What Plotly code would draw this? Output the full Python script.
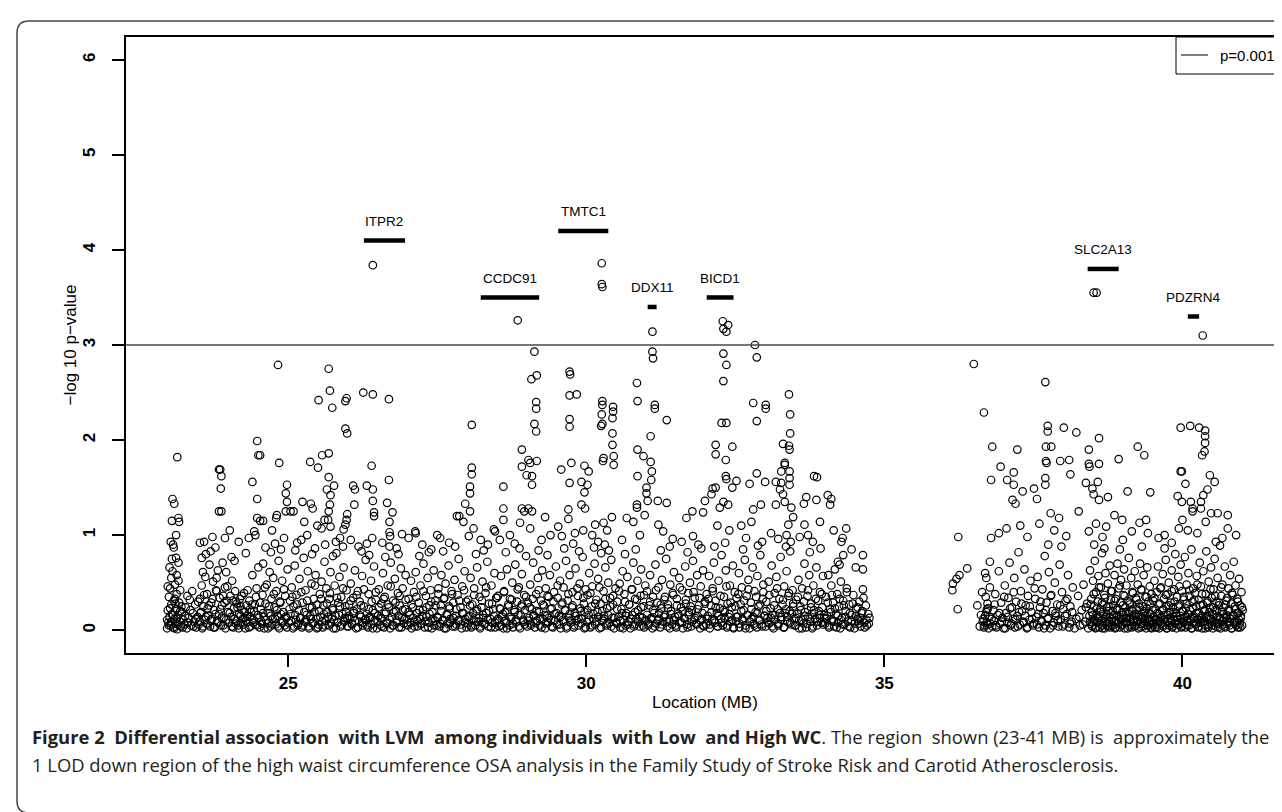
import plotly.graph_objects as go

# ---------------- data (x = Location (MB), y = -log10 p) ----------------
seg_a = [(23.14,1.82),(23.06,1.38),(23.09,1.33),(23.05,1.15),(23.16,1.18),(23.17,1.14),(23.12,1.00),(23.07,0.90),(23.08,0.87),(23.05,0.75),(23.12,0.76),(23.16,0.71),(23.04,0.55),(23.13,0.58),(23.16,0.52),(23.39,0.41),
 (22.97,0.02),(22.98,0.21),(22.99,0.08),(23.00,0.35),(23.01,0.14),(23.02,0.44),(23.03,0.05),(23.04,0.27),(23.05,0.17),(23.06,0.62),(23.07,0.03),(23.08,0.31),(23.09,0.12),(23.10,0.48),(23.11,0.07),(23.12,0.22),(23.13,0.38),(23.14,0.01),(23.15,0.16),(23.17,0.29),(23.18,0.09),(23.20,0.04),(23.22,0.19),(23.24,0.11),(23.26,0.06),(23.28,0.24),(23.30,0.02),(23.33,0.13),(23.35,0.32),(23.37,0.05),(23.40,0.18),(23.42,0.09),(23.44,0.27),(23.46,0.03),(23.48,0.14),(22.98,0.46),(23.01,0.66),(23.03,0.93),(23.10,0.33),(23.19,0.42),(23.21,0.25),(23.31,0.36)]
seg_b = [(23.52,0.92),(23.59,0.93),(23.73,0.98),(23.78,0.87),(23.94,0.97),(23.84,1.69),(23.86,1.69),(23.88,1.62),(23.87,1.49),(23.84,1.25),(23.88,1.25),(23.55,0.76),(23.62,0.80),(23.57,0.61),
 (23.50,0.06),(23.52,0.33),(23.53,0.18),(23.55,0.47),(23.56,0.02),(23.58,0.25),(23.60,0.11),(23.61,0.56),(23.63,0.07),(23.64,0.38),(23.66,0.15),(23.68,0.69),(23.69,0.04),(23.71,0.29),(23.72,0.12),(23.74,0.51),(23.76,0.21),(23.77,0.03),(23.79,0.42),(23.81,0.09),(23.82,0.63),(23.84,0.17),(23.85,0.34),(23.87,0.05),(23.89,0.26),(23.90,0.71),(23.92,0.13),(23.94,0.45),(23.95,0.02),(23.97,0.31),(23.99,0.19),(23.65,0.23),(23.70,0.83),(23.80,0.55),(23.91,0.36),(23.96,0.61)]
seg_c = [(24.02,1.05),(24.17,0.93),(24.34,0.97),(24.43,1.04),(24.40,1.56),(24.48,1.99),(24.50,1.84),(24.53,1.84),(24.48,1.38),(24.48,1.18),(24.53,1.15),(24.58,1.15),(24.45,1.00),(24.10,0.73),(24.29,0.81),(24.05,0.77),
 (24.01,0.08),(24.03,0.36),(24.04,0.14),(24.06,0.52),(24.08,0.03),(24.09,0.23),(24.11,0.41),(24.13,0.10),(24.14,0.28),(24.16,0.05),(24.18,0.17),(24.19,0.33),(24.21,0.07),(24.23,0.21),(24.24,0.12),(24.26,0.39),(24.28,0.02),(24.30,0.26),(24.31,0.15),(24.33,0.09),(24.35,0.31),(24.37,0.04),(24.38,0.19),(24.40,0.58),(24.42,0.11),(24.44,0.27),(24.46,0.06),(24.47,0.44),(24.49,0.16),(24.50,0.66),(24.12,0.30),(24.20,0.25),(24.27,0.13),(24.36,0.22)]
seg_d = [(24.83,2.79),(24.85,1.76),(24.73,1.05),(24.80,1.18),(24.81,1.21),(24.96,1.44),(24.98,1.53),(24.98,1.35),(24.96,1.25),(24.78,0.91),(24.93,0.97),(24.62,0.87),
 (24.52,0.03),(24.54,0.22),(24.55,0.09),(24.57,0.37),(24.59,0.14),(24.60,0.02),(24.62,0.28),(24.64,0.48),(24.65,0.07),(24.67,0.18),(24.69,0.61),(24.70,0.04),(24.72,0.33),(24.74,0.12),(24.75,0.55),(24.77,0.24),(24.79,0.06),(24.80,0.41),(24.82,0.15),(24.84,0.73),(24.85,0.02),(24.87,0.29),(24.89,0.10),(24.90,0.52),(24.92,0.19),(24.94,0.05),(24.95,0.36),(24.97,0.13),(24.99,0.64),(24.58,0.70),(24.71,0.82),(24.88,0.85)]
seg_e = [(25.04,1.25),(25.09,1.25),(25.37,1.77),(25.50,1.71),(25.24,1.35),(25.38,1.33),(25.41,1.28),(25.27,1.14),(25.49,1.10),(25.32,1.00),(25.51,2.42),(25.15,0.92),(25.45,0.86),
 (25.01,0.08),(25.03,0.31),(25.04,0.17),(25.06,0.45),(25.08,0.02),(25.09,0.25),(25.11,0.68),(25.13,0.11),(25.14,0.37),(25.16,0.05),(25.18,0.21),(25.19,0.54),(25.21,0.13),(25.23,0.03),(25.24,0.29),(25.26,0.76),(25.28,0.09),(25.29,0.42),(25.31,0.16),(25.33,0.62),(25.34,0.04),(25.36,0.24),(25.38,0.12),(25.39,0.49),(25.41,0.07),(25.43,0.33),(25.44,0.19),(25.46,0.58),(25.48,0.02),(25.49,0.27),(25.12,0.84),(25.22,0.95),(25.40,0.80)]
seg_f = [(25.57,1.84),(25.68,1.86),(25.68,2.75),(25.70,2.52),(25.74,2.34),(25.68,1.61),(25.65,1.48),(25.71,1.42),(25.70,1.32),(25.68,1.25),(25.67,1.16),(25.71,1.09),(25.77,1.52),(25.61,1.16),(25.56,1.07),(25.96,2.41),(25.98,2.44),(25.96,2.12),(25.99,2.07),(25.87,0.97),(25.99,1.22),(25.98,1.16),(25.96,1.11),(25.93,1.06),(25.80,0.93),(25.92,0.88),
 (25.51,0.06),(25.53,0.38),(25.54,0.14),(25.56,0.51),(25.58,0.03),(25.59,0.26),(25.61,0.72),(25.63,0.10),(25.64,0.44),(25.66,0.19),(25.68,0.05),(25.69,0.33),(25.71,0.61),(25.73,0.12),(25.74,0.23),(25.76,0.02),(25.78,0.47),(25.79,0.15),(25.81,0.81),(25.83,0.08),(25.84,0.29),(25.86,0.56),(25.88,0.04),(25.89,0.35),(25.91,0.17),(25.93,0.66),(25.94,0.09),(25.96,0.25),(25.98,0.42),(25.99,0.13),(25.62,0.90),(25.75,0.78)]
seg_g = [(26.09,1.52),(26.12,1.48),(26.11,1.32),(26.26,2.50),(26.42,2.48),(26.40,1.73),(26.32,1.52),(26.42,1.48),(26.42,1.36),(26.44,1.24),(26.44,1.20),(26.32,0.91),(26.41,0.97),(26.42,3.84),(26.05,0.95),(26.18,0.88),
 (26.01,0.04),(26.02,0.27),(26.04,0.12),(26.05,0.49),(26.07,0.07),(26.09,0.34),(26.10,0.18),(26.12,0.63),(26.14,0.02),(26.15,0.22),(26.17,0.41),(26.19,0.09),(26.20,0.30),(26.22,0.14),(26.24,0.57),(26.25,0.05),(26.27,0.25),(26.29,0.11),(26.30,0.74),(26.32,0.17),(26.34,0.03),(26.35,0.38),(26.37,0.13),(26.39,0.52),(26.40,0.06),(26.42,0.21),(26.44,0.67),(26.45,0.10),(26.47,0.32),(26.49,0.02),(26.23,0.83),(26.36,0.79)]
seg_h = [(26.69,2.43),(26.69,1.58),(26.66,1.34),(26.75,1.24),(26.70,1.14),(26.70,1.03),(26.71,0.99),(26.70,0.88),(26.91,1.01),(27.02,0.97),(26.58,0.92),(26.82,0.86),
 (26.51,0.15),(26.52,0.43),(26.54,0.06),(26.56,0.28),(26.57,0.12),(26.59,0.60),(26.61,0.03),(26.62,0.35),(26.64,0.19),(26.66,0.08),(26.67,0.47),(26.69,0.24),(26.71,0.02),(26.72,0.71),(26.74,0.14),(26.76,0.31),(26.77,0.05),(26.79,0.54),(26.81,0.20),(26.82,0.10),(26.84,0.39),(26.86,0.03),(26.87,0.26),(26.89,0.65),(26.91,0.13),(26.92,0.44),(26.94,0.07),(26.96,0.22),(26.97,0.58),(26.99,0.11),(26.63,0.77),(26.85,0.80)]
seg_i = [(27.13,1.04),(27.14,1.02),(27.50,1.00),(27.36,0.82),(27.25,0.90),
 (27.01,0.05),(27.02,0.33),(27.04,0.16),(27.06,0.52),(27.07,0.02),(27.09,0.24),(27.11,0.40),(27.12,0.09),(27.14,0.61),(27.16,0.18),(27.17,0.04),(27.19,0.29),(27.21,0.12),(27.22,0.47),(27.24,0.07),(27.26,0.21),(27.27,0.70),(27.29,0.03),(27.31,0.36),(27.32,0.14),(27.34,0.55),(27.36,0.08),(27.37,0.26),(27.39,0.42),(27.41,0.02),(27.42,0.19),(27.44,0.63),(27.46,0.10),(27.47,0.31),(27.49,0.05),(27.20,0.78),(27.40,0.85)]
seg_j = [(27.83,1.20),(27.87,1.20),(27.94,1.14),(27.97,1.33),(27.55,0.97),(27.70,0.92),
 (27.51,0.13),(27.52,0.38),(27.54,0.04),(27.56,0.26),(27.57,0.58),(27.59,0.10),(27.61,0.33),(27.62,0.02),(27.64,0.49),(27.66,0.17),(27.67,0.07),(27.69,0.68),(27.71,0.23),(27.72,0.12),(27.74,0.41),(27.76,0.04),(27.77,0.29),(27.79,0.53),(27.81,0.15),(27.82,0.06),(27.84,0.37),(27.86,0.75),(27.87,0.11),(27.89,0.24),(27.91,0.02),(27.92,0.46),(27.94,0.18),(27.96,0.62),(27.97,0.08),(27.99,0.30),(27.60,0.83),(27.80,0.88)]
seg_k = [(28.08,2.16),(28.08,1.71),(28.08,1.64),(28.05,1.51),(28.05,1.44),(28.05,1.25),(28.11,1.07),(28.45,1.06),(28.47,1.04),(28.23,0.95),(28.35,0.90),(28.03,0.99),
 (28.01,0.07),(28.02,0.32),(28.04,0.15),(28.06,0.55),(28.07,0.03),(28.09,0.27),(28.11,0.11),(28.12,0.44),(28.14,0.05),(28.16,0.20),(28.17,0.66),(28.19,0.09),(28.21,0.35),(28.22,0.02),(28.24,0.24),(28.26,0.51),(28.27,0.13),(28.29,0.06),(28.31,0.39),(28.32,0.18),(28.34,0.72),(28.36,0.04),(28.37,0.28),(28.39,0.12),(28.41,0.47),(28.42,0.08),(28.44,0.22),(28.46,0.60),(28.47,0.03),(28.49,0.34),(28.15,0.80),(28.28,0.84)]
seg_l = [(28.61,1.51),(28.61,1.28),(28.61,1.16),(28.85,3.26),(28.92,1.90),(28.92,1.72),(29.00,1.63),(28.92,1.28),(28.89,1.13),(28.72,1.00),(28.55,0.95),(28.80,0.91),
 (28.51,0.10),(28.52,0.36),(28.54,0.04),(28.56,0.22),(28.57,0.57),(28.59,0.14),(28.61,0.02),(28.62,0.41),(28.64,0.19),(28.66,0.08),(28.67,0.64),(28.69,0.27),(28.71,0.05),(28.72,0.33),(28.74,0.12),(28.76,0.50),(28.77,0.03),(28.79,0.21),(28.81,0.69),(28.82,0.09),(28.84,0.30),(28.86,0.16),(28.87,0.45),(28.89,0.02),(28.91,0.25),(28.92,0.59),(28.94,0.11),(28.96,0.37),(28.97,0.06),(28.99,0.78),(28.65,0.82),(28.88,0.86)]
seg_m = [(29.13,2.93),(29.08,2.64),(29.17,2.68),(29.16,2.40),(29.16,2.33),(29.13,2.17),(29.16,2.09),(29.03,1.79),(29.06,1.76),(29.17,1.78),(29.09,1.62),(29.09,1.53),(29.09,1.25),(29.06,1.07),(29.31,1.19),(29.40,1.00),(29.25,0.95),(29.03,1.28),(28.96,1.25),
 (29.01,0.04),(29.02,0.29),(29.04,0.13),(29.06,0.48),(29.07,0.07),(29.09,0.22),(29.11,0.71),(29.12,0.16),(29.14,0.03),(29.16,0.38),(29.17,0.10),(29.19,0.55),(29.21,0.19),(29.22,0.05),(29.24,0.31),(29.26,0.63),(29.27,0.12),(29.29,0.26),(29.31,0.02),(29.32,0.44),(29.34,0.15),(29.36,0.08),(29.37,0.35),(29.39,0.58),(29.41,0.11),(29.42,0.23),(29.44,0.03),(29.46,0.40),(29.47,0.17),(29.49,0.67),(29.20,0.84),(29.35,0.79)]
seg_n = [(29.72,2.72),(29.73,2.69),(29.72,2.47),(29.84,2.48),(29.72,2.22),(29.72,2.14),(29.58,1.69),(29.75,1.76),(29.72,1.55),(29.97,1.73),(29.92,1.56),(29.97,1.45),(29.92,1.32),(29.98,1.28),(29.70,1.27),(29.70,1.17),(29.53,1.09),(29.59,0.99),(29.81,1.02),(29.95,1.05),
 (29.51,0.06),(29.52,0.34),(29.54,0.15),(29.56,0.52),(29.57,0.02),(29.59,0.27),(29.61,0.11),(29.62,0.45),(29.64,0.21),(29.66,0.73),(29.67,0.04),(29.69,0.31),(29.71,0.13),(29.72,0.58),(29.74,0.08),(29.76,0.24),(29.77,0.40),(29.79,0.03),(29.81,0.18),(29.82,0.65),(29.84,0.10),(29.86,0.36),(29.87,0.05),(29.89,0.49),(29.91,0.20),(29.92,0.12),(29.94,0.77),(29.96,0.28),(29.97,0.02),(29.99,0.43),(29.63,0.86),(29.78,0.91),(29.88,0.83)]
seg_o = [(30.26,3.86),(30.26,3.64),(30.27,3.61),(30.27,2.41),(30.27,2.37),(30.26,2.27),(30.27,2.17),(30.25,2.15),(30.45,2.35),(30.45,2.30),(30.44,2.23),(30.44,2.07),(30.44,1.95),(30.46,1.83),(30.46,1.74),(30.29,1.81),(30.28,1.78),(30.15,1.11),(30.29,1.13),(30.43,1.19),(30.10,1.00),(30.02,1.53),(30.04,1.67),(30.35,1.05),(30.20,0.93),
 (30.01,0.09),(30.02,0.37),(30.04,0.16),(30.05,0.60),(30.07,0.03),(30.09,0.25),(30.10,0.46),(30.12,0.12),(30.14,0.70),(30.15,0.06),(30.17,0.32),(30.19,0.19),(30.20,0.54),(30.22,0.02),(30.24,0.28),(30.25,0.81),(30.27,0.10),(30.29,0.41),(30.30,0.15),(30.32,0.66),(30.34,0.05),(30.35,0.23),(30.37,0.50),(30.39,0.08),(30.40,0.34),(30.42,0.74),(30.44,0.13),(30.45,0.27),(30.47,0.02),(30.49,0.44),(30.13,0.87),(30.31,0.90),(30.38,0.84)]
seg_p = [(30.68,1.18),(30.79,1.14),(30.85,2.60),(30.86,2.41),(30.86,1.90),(30.96,1.83),(30.86,1.62),(30.85,1.32),(30.85,1.29),(30.98,1.21),(30.90,1.00),(30.60,0.95),
 (30.51,0.07),(30.52,0.30),(30.54,0.14),(30.56,0.49),(30.57,0.03),(30.59,0.22),(30.61,0.62),(30.62,0.11),(30.64,0.38),(30.66,0.05),(30.67,0.18),(30.69,0.56),(30.71,0.09),(30.72,0.27),(30.74,0.02),(30.76,0.43),(30.77,0.16),(30.79,0.71),(30.81,0.06),(30.82,0.33),(30.84,0.12),(30.86,0.52),(30.87,0.21),(30.89,0.04),(30.91,0.36),(30.92,0.64),(30.94,0.13),(30.96,0.25),(30.97,0.03),(30.99,0.47),(30.65,0.80),(30.83,0.85)]
seg_q = [(31.11,3.14),(31.11,2.93),(31.12,2.86),(31.15,2.37),(31.15,2.33),(31.35,2.21),(31.08,2.04),(31.08,1.77),(31.10,1.67),(31.09,1.58),(31.01,1.50),(31.01,1.44),(31.03,1.36),(31.20,1.36),(31.35,1.34),(31.21,1.11),(31.29,1.04),(31.45,0.96),
 (31.01,0.10),(31.02,0.41),(31.04,0.05),(31.06,0.26),(31.07,0.58),(31.09,0.13),(31.11,0.02),(31.12,0.35),(31.14,0.18),(31.16,0.69),(31.17,0.07),(31.19,0.29),(31.21,0.45),(31.22,0.12),(31.24,0.03),(31.26,0.23),(31.27,0.53),(31.29,0.09),(31.31,0.32),(31.32,0.16),(31.34,0.75),(31.36,0.04),(31.37,0.27),(31.39,0.11),(31.41,0.48),(31.42,0.20),(31.44,0.06),(31.46,0.37),(31.47,0.61),(31.49,0.14),(31.25,0.84),(31.40,0.88)]
seg_r = [(31.68,1.18),(31.78,1.25),(31.99,1.36),(31.96,1.24),(31.79,0.99),(31.60,0.93),(31.88,0.90),
 (31.51,0.03),(31.52,0.33),(31.54,0.17),(31.56,0.55),(31.57,0.08),(31.59,0.24),(31.61,0.42),(31.62,0.02),(31.64,0.13),(31.66,0.67),(31.67,0.28),(31.69,0.06),(31.71,0.39),(31.72,0.19),(31.74,0.50),(31.76,0.04),(31.77,0.21),(31.79,0.73),(31.81,0.11),(31.82,0.34),(31.84,0.07),(31.86,0.58),(31.87,0.15),(31.89,0.26),(31.91,0.02),(31.92,0.46),(31.94,0.12),(31.96,0.63),(31.97,0.05),(31.99,0.30),(31.70,0.82),(31.93,0.86)]
seg_s = [(32.29,3.25),(32.38,3.21),(32.30,3.17),(32.35,3.14),(32.30,2.91),(32.35,2.79),(32.30,2.62),(32.27,2.18),(32.35,2.18),(32.17,1.95),(32.17,1.85),(32.34,1.79),(32.45,1.93),(32.34,1.62),(32.35,1.59),(32.17,1.50),(32.12,1.49),(32.10,1.43),(32.24,1.29),(32.30,1.35),(32.38,1.32),(32.45,1.50),(32.20,1.10),(32.40,1.05),
 (32.01,0.06),(32.02,0.38),(32.04,0.15),(32.06,0.57),(32.07,0.02),(32.09,0.26),(32.11,0.11),(32.12,0.44),(32.14,0.71),(32.16,0.08),(32.17,0.31),(32.19,0.18),(32.21,0.04),(32.22,0.52),(32.24,0.23),(32.26,0.12),(32.27,0.79),(32.29,0.05),(32.31,0.35),(32.32,0.19),(32.34,0.63),(32.36,0.03),(32.37,0.28),(32.39,0.14),(32.41,0.47),(32.42,0.09),(32.44,0.24),(32.46,0.68),(32.47,0.02),(32.49,0.40),(32.15,0.88),(32.33,0.92)]
seg_t = [(32.83,3.00),(32.86,2.87),(32.80,2.39),(32.86,2.20),(32.52,1.57),(32.74,1.54),(32.86,1.65),(32.80,1.27),(32.77,1.14),(32.93,1.32),(32.60,1.10),(32.68,0.97),(32.95,0.93),
 (32.51,0.09),(32.52,0.34),(32.54,0.14),(32.56,0.60),(32.57,0.03),(32.59,0.27),(32.61,0.45),(32.62,0.10),(32.64,0.21),(32.66,0.74),(32.67,0.05),(32.69,0.36),(32.71,0.16),(32.72,0.53),(32.74,0.02),(32.76,0.29),(32.77,0.12),(32.79,0.66),(32.81,0.07),(32.82,0.41),(32.84,0.19),(32.86,0.03),(32.87,0.57),(32.89,0.25),(32.91,0.11),(32.92,0.79),(32.94,0.06),(32.96,0.33),(32.97,0.48),(32.99,0.15),(32.63,0.85),(32.88,0.89)]
seg_u = [(33.01,2.37),(33.01,2.33),(33.00,1.56),(33.40,2.48),(33.42,2.27),(33.42,2.07),(33.30,1.96),(33.40,1.94),(33.41,1.90),(33.33,1.76),(33.33,1.74),(33.18,1.56),(33.27,1.67),(33.27,1.55),(33.41,1.67),(33.41,1.60),(33.41,1.53),(33.25,1.48),(33.30,1.43),(33.33,1.35),(33.18,1.32),(33.44,1.29),(33.47,1.19),(33.39,1.11),(33.10,1.02),(33.22,0.96),(33.36,1.00),
 (33.01,0.04),(33.02,0.30),(33.04,0.13),(33.06,0.51),(33.07,0.07),(33.09,0.23),(33.11,0.68),(33.12,0.16),(33.14,0.02),(33.16,0.39),(33.17,0.11),(33.19,0.56),(33.21,0.22),(33.22,0.05),(33.24,0.33),(33.26,0.77),(33.27,0.14),(33.29,0.27),(33.31,0.03),(33.32,0.46),(33.34,0.18),(33.36,0.62),(33.37,0.09),(33.39,0.36),(33.41,0.20),(33.42,0.83),(33.44,0.06),(33.46,0.42),(33.47,0.25),(33.49,0.12),(33.35,0.88),(33.43,0.93)]
seg_v = [(33.82,1.62),(33.87,1.61),(33.69,1.40),(33.65,1.33),(33.86,1.37),(33.66,1.11),(33.72,1.00),(33.92,1.14),(33.80,0.93),(33.58,0.98),
 (33.51,0.05),(33.52,0.32),(33.54,0.17),(33.56,0.53),(33.57,0.02),(33.59,0.25),(33.61,0.11),(33.62,0.44),(33.64,0.07),(33.66,0.70),(33.67,0.19),(33.69,0.03),(33.71,0.36),(33.72,0.14),(33.74,0.58),(33.76,0.09),(33.77,0.28),(33.79,0.02),(33.81,0.47),(33.82,0.21),(33.84,0.12),(33.86,0.66),(33.87,0.05),(33.89,0.31),(33.91,0.16),(33.92,0.40),(33.94,0.08),(33.96,0.24),(33.97,0.57),(33.99,0.13),(33.75,0.82),(33.93,0.86)]
seg_w = [(34.05,1.42),(34.11,1.38),(34.09,1.32),(34.36,1.07),(34.30,0.97),(34.28,0.93),(34.45,0.85),(34.31,0.79),(34.22,0.72),(34.25,0.69),(34.64,0.79),(34.64,0.64),(34.52,0.66),(34.64,0.43),(34.65,0.34),(34.73,0.17),(34.56,0.10),(34.15,1.05),
 (34.01,0.07),(34.02,0.35),(34.04,0.15),(34.06,0.58),(34.07,0.03),(34.09,0.22),(34.11,0.47),(34.12,0.10),(34.14,0.29),(34.16,0.04),(34.17,0.64),(34.19,0.17),(34.21,0.38),(34.22,0.08),(34.24,0.25),(34.26,0.02),(34.27,0.51),(34.29,0.13),(34.31,0.31),(34.33,0.06),(34.35,0.20),(34.37,0.44),(34.39,0.09),(34.41,0.27),(34.43,0.03),(34.45,0.16),(34.48,0.37),(34.50,0.07),(34.53,0.22),(34.55,0.12),(34.58,0.30),(34.60,0.04),(34.62,0.18),(34.66,0.08),(34.69,0.26),(34.71,0.05),(34.75,0.13)]
seg_x = [(36.50,2.80),(36.67,2.29),(36.24,0.98),(36.79,0.97),(36.39,0.65),(36.26,0.58),(36.21,0.54),(36.15,0.49),(36.14,0.42),(36.23,0.22),(36.60,0.04),(36.56,0.26),(36.70,0.35),(36.79,1.58),
 (36.66,0.12),(36.68,0.05),(36.71,0.19),(36.72,0.08),(36.73,0.28),(36.75,0.02),(36.76,0.14),(36.77,0.45),(36.78,0.07),(36.74,0.23),(36.69,0.60),(36.62,0.16),(36.64,0.40),(36.77,0.72),(36.71,0.55)]
seg_y = [(36.81,1.93),(37.23,1.90),(36.95,1.72),(37.06,1.58),(37.17,1.66),(37.17,1.53),(37.32,1.46),(37.15,1.37),(37.20,1.33),(37.51,1.49),(37.56,1.38),(36.92,1.02),(37.05,1.07),(37.28,1.10),(37.40,0.98),
 (36.81,0.04),(36.83,0.21),(36.84,0.10),(36.86,0.38),(36.88,0.03),(36.90,0.16),(36.92,0.62),(36.94,0.07),(36.96,0.29),(36.98,0.13),(37.00,0.02),(37.02,0.47),(37.04,0.18),(37.06,0.08),(37.08,0.34),(37.10,0.71),(37.12,0.05),(37.14,0.24),(37.16,0.12),(37.18,0.55),(37.19,0.03),(37.21,0.30),(37.23,0.15),(37.25,0.82),(37.27,0.06),(37.29,0.41),(37.31,0.20),(37.33,0.09),(37.35,0.64),(37.37,0.26),(37.39,0.02),(37.41,0.36),(37.43,0.11),(37.45,0.52),(37.47,0.19),(37.49,0.05)]
seg_z = [(37.70,2.61),(37.74,2.15),(37.74,2.09),(38.01,2.13),(37.71,1.93),(37.80,1.93),(37.71,1.78),(37.72,1.76),(37.95,1.78),(38.10,1.79),(37.70,1.53),(37.70,1.60),(38.12,1.64),(37.79,1.23),(37.93,1.18),(38.22,2.08),(37.60,1.12),(37.85,1.05),(38.05,0.99),
 (37.51,0.07),(37.53,0.33),(37.55,0.14),(37.57,0.56),(37.59,0.03),(37.61,0.24),(37.63,0.10),(37.65,0.43),(37.67,0.18),(37.69,0.78),(37.70,0.05),(37.72,0.29),(37.74,0.12),(37.76,0.61),(37.78,0.02),(37.80,0.37),(37.82,0.20),(37.84,0.08),(37.86,0.50),(37.88,0.15),(37.90,0.27),(37.92,0.04),(37.94,0.69),(37.96,0.11),(37.98,0.40),(38.00,0.22),(38.02,0.06),(38.04,0.31),(38.06,0.17),(38.08,0.58),(38.10,0.03),(38.12,0.25),(38.14,0.09),(38.16,0.45),(37.75,0.90),(37.97,0.88)]
seg_aa = [(38.51,3.55),(38.56,3.55),(38.60,2.02),(38.43,1.90),(38.43,1.75),(38.60,1.75),(38.44,1.72),(38.38,1.55),(38.49,1.49),(38.58,1.56),(38.51,1.43),(38.60,1.37),(38.75,1.40),(38.26,1.25),(38.43,1.04),(38.72,1.09),(38.55,1.12),(38.66,0.98),
 (38.22,0.12),(38.25,0.36),(38.28,0.05),(38.31,0.21),(38.34,0.48),(38.37,0.09),(38.40,0.28),(38.42,0.02),(38.44,0.15),(38.45,0.63),(38.46,0.07),(38.47,0.33),(38.48,0.19),(38.49,0.04),(38.50,0.52),(38.51,0.11),(38.52,0.25),(38.53,0.73),(38.54,0.02),(38.55,0.40),(38.56,0.16),(38.57,0.08),(38.58,0.30),(38.59,0.57),(38.60,0.13),(38.61,0.03),(38.62,0.22),(38.63,0.45),(38.64,0.10),(38.65,0.81),(38.66,0.05),(38.67,0.27),(38.68,0.17),(38.69,0.37),(38.70,0.02),(38.71,0.60),(38.72,0.14),(38.73,0.24),(38.74,0.06),(38.75,0.49),(38.76,0.20),(38.77,0.09),(38.78,0.68),(38.79,0.03),(38.80,0.32),(38.52,0.90),(38.69,0.86)]
seg_bb = [(38.93,1.80),(39.25,1.93),(39.36,1.84),(39.08,1.46),(39.46,1.45),(38.86,1.21),(38.99,1.16),(39.28,1.13),(39.39,1.16),(39.42,1.02),(39.00,0.95),(39.15,1.04),
 (38.81,0.12),(38.82,0.41),(38.83,0.05),(38.84,0.26),(38.85,0.16),(38.86,0.58),(38.87,0.02),(38.88,0.33),(38.89,0.10),(38.90,0.21),(38.91,0.70),(38.92,0.07),(38.93,0.44),(38.94,0.14),(38.95,0.03),(38.96,0.29),(38.97,0.53),(38.98,0.11),(38.99,0.19),(39.00,0.06),(39.01,0.37),(39.02,0.64),(39.03,0.02),(39.04,0.24),(39.05,0.13),(39.06,0.47),(39.07,0.08),(39.08,0.31),(39.09,0.18),(39.10,0.76),(39.11,0.04),(39.12,0.27),(39.13,0.12),(39.14,0.55),(39.15,0.03),(39.16,0.20),(39.17,0.39),(39.18,0.09),(39.19,0.15),(39.20,0.62),(39.21,0.05),(39.22,0.34),(39.23,0.22),(39.24,0.11),(39.25,0.48),(39.26,0.02),(39.27,0.28),(39.28,0.16),(39.29,0.70),(39.30,0.07),(39.31,0.42),(39.32,0.13),(39.33,0.25),(39.34,0.04),(39.35,0.58),(39.36,0.18),(39.37,0.09),(39.38,0.35),(39.39,0.02),(39.40,0.23),(39.41,0.66),(39.42,0.12),(39.43,0.30),(39.44,0.06),(39.45,0.46),(39.46,0.17),(39.47,0.03),(39.48,0.38),(39.49,0.10),(38.95,0.85),(39.32,0.88)]
seg_cc = [(39.97,2.13),(40.13,2.15),(39.97,1.67),(39.99,1.67),(40.05,1.54),(39.92,1.41),(39.99,1.35),(40.14,1.35),(40.17,1.28),(39.70,1.00),(39.70,0.86),(39.94,1.07),(40.00,1.16),(40.17,1.25),(39.60,0.97),(39.82,0.92),(40.09,1.05),
 (39.50,0.08),(39.51,0.31),(39.52,0.14),(39.53,0.52),(39.54,0.03),(39.55,0.22),(39.56,0.11),(39.57,0.40),(39.58,0.06),(39.59,0.67),(39.60,0.17),(39.61,0.02),(39.62,0.28),(39.63,0.13),(39.64,0.45),(39.65,0.07),(39.66,0.21),(39.67,0.59),(39.68,0.04),(39.69,0.33),(39.70,0.16),(39.71,0.09),(39.72,0.74),(39.73,0.25),(39.74,0.02),(39.75,0.38),(39.76,0.12),(39.77,0.50),(39.78,0.05),(39.79,0.19),(39.80,0.29),(39.81,0.10),(39.82,0.63),(39.83,0.03),(39.84,0.24),(39.85,0.14),(39.86,0.43),(39.87,0.07),(39.88,0.80),(39.89,0.18),(39.90,0.02),(39.91,0.35),(39.92,0.11),(39.93,0.56),(39.94,0.06),(39.95,0.27),(39.96,0.15),(39.97,0.69),(39.98,0.04),(39.99,0.41),(40.00,0.20),(40.01,0.09),(40.02,0.32),(40.03,0.13),(40.04,0.77),(40.05,0.03),(40.06,0.23),(40.07,0.48),(40.08,0.10),(40.09,0.17),(40.10,0.60),(40.11,0.05),(40.12,0.36),(40.13,0.21),(40.14,0.12),(40.15,0.85),(40.16,0.02),(40.17,0.30),(40.18,0.44),(40.19,0.08)]
seg_dd = [(40.28,2.13),(40.38,2.10),(40.38,2.04),(40.38,1.97),(40.37,1.88),(40.33,1.84),(40.34,3.10),(40.31,1.35),(40.35,1.42),(40.42,1.48),(40.46,1.63),(40.54,1.56),(40.31,1.28),(40.48,1.23),(40.39,1.14),(40.76,1.21),(40.59,1.23),(40.76,1.07),(40.90,1.00),(40.67,0.97),(40.56,0.93),(40.25,1.02),
 (40.20,0.14),(40.21,0.39),(40.22,0.06),(40.23,0.25),(40.24,0.57),(40.25,0.11),(40.26,0.03),(40.27,0.32),(40.28,0.18),(40.29,0.71),(40.30,0.08),(40.31,0.46),(40.32,0.13),(40.33,0.02),(40.34,0.27),(40.35,0.62),(40.36,0.10),(40.37,0.20),(40.38,0.05),(40.39,0.38),(40.40,0.83),(40.41,0.15),(40.42,0.29),(40.43,0.03),(40.44,0.51),(40.45,0.12),(40.46,0.23),(40.47,0.07),(40.48,0.66),(40.49,0.34),(40.50,0.17),(40.51,0.02),(40.52,0.43),(40.53,0.09),(40.54,0.75),(40.55,0.21),(40.56,0.04),(40.57,0.30),(40.58,0.14),(40.59,0.55),(40.60,0.07),(40.61,0.26),(40.62,0.11),(40.63,0.89),(40.64,0.02),(40.65,0.36),(40.66,0.19),(40.67,0.48),(40.68,0.06),(40.69,0.24),(40.70,0.13),(40.71,0.67),(40.72,0.03),(40.73,0.31),(40.74,0.16),(40.75,0.09),(40.77,0.44),(40.78,0.20),(40.79,0.05),(40.80,0.58),(40.81,0.12),(40.82,0.28),(40.83,0.02),(40.84,0.37),(40.85,0.15),(40.86,0.72),(40.87,0.08),(40.88,0.22),(40.89,0.47),(40.91,0.10),(40.92,0.33),(40.93,0.03),(40.94,0.18),(40.95,0.54),(40.96,0.07),(40.97,0.26),(40.98,0.13),(40.99,0.40),(41.00,0.05),(41.01,0.21)]

# dense low band (overlapping circles near zero)
low_23 = [(22.97,0.11),(23.00,0.05),(23.02,0.23),(23.04,0.09),(23.07,0.16),(23.09,0.02),(23.11,0.28),(23.13,0.12),(23.16,0.06),(23.19,0.20),(23.23,0.03),(23.27,0.15),(23.32,0.08),(23.36,0.21),(23.41,0.04),(23.45,0.12),(23.49,0.30),(23.51,0.09),(23.54,0.19),(23.57,0.04),(23.59,0.37),(23.62,0.14),(23.65,0.06),(23.67,0.26),(23.70,0.10),(23.73,0.33),(23.75,0.03),(23.78,0.17),(23.80,0.41),(23.83,0.08),(23.86,0.22),(23.88,0.13),(23.91,0.05),(23.93,0.29),(23.96,0.11),(23.98,0.46)]
low_24 = [(24.02,0.18),(24.05,0.04),(24.07,0.31),(24.10,0.12),(24.12,0.07),(24.15,0.24),(24.17,0.02),(24.20,0.15),(24.22,0.36),(24.25,0.06),(24.27,0.19),(24.29,0.10),(24.32,0.42),(24.34,0.03),(24.36,0.14),(24.39,0.27),(24.41,0.08),(24.43,0.20),(24.46,0.35),(24.48,0.05),(24.51,0.13),(24.53,0.29),(24.56,0.07),(24.58,0.18),(24.61,0.45),(24.63,0.11),(24.66,0.02),(24.68,0.25),(24.71,0.15),(24.73,0.06),(24.76,0.38),(24.78,0.12),(24.81,0.21),(24.83,0.04),(24.86,0.30),(24.88,0.17),(24.91,0.08),(24.93,0.43),(24.96,0.14),(24.98,0.03)]
low_25 = [(25.02,0.22),(25.05,0.10),(25.07,0.35),(25.10,0.04),(25.12,0.16),(25.15,0.27),(25.17,0.07),(25.20,0.13),(25.22,0.40),(25.25,0.05),(25.27,0.19),(25.30,0.11),(25.32,0.31),(25.35,0.02),(25.37,0.15),(25.40,0.24),(25.42,0.08),(25.45,0.47),(25.47,0.12),(25.50,0.03),(25.52,0.20),(25.55,0.33),(25.57,0.09),(25.60,0.17),(25.62,0.05),(25.65,0.28),(25.67,0.14),(25.70,0.39),(25.72,0.07),(25.75,0.21),(25.77,0.11),(25.80,0.02),(25.82,0.34),(25.85,0.16),(25.87,0.25),(25.90,0.06),(25.92,0.44),(25.95,0.13),(25.97,0.19),(25.99,0.04)]
low_26 = [(26.02,0.15),(26.05,0.31),(26.07,0.06),(26.10,0.20),(26.12,0.10),(26.15,0.37),(26.17,0.03),(26.20,0.16),(26.22,0.26),(26.25,0.08),(26.27,0.43),(26.30,0.12),(26.32,0.05),(26.35,0.22),(26.37,0.14),(26.40,0.30),(26.42,0.02),(26.45,0.18),(26.47,0.40),(26.50,0.09),(26.52,0.24),(26.55,0.13),(26.57,0.04),(26.60,0.33),(26.62,0.17),(26.65,0.07),(26.67,0.27),(26.70,0.11),(26.72,0.46),(26.75,0.05),(26.77,0.19),(26.80,0.29),(26.82,0.08),(26.85,0.15),(26.87,0.36),(26.90,0.03),(26.92,0.21),(26.95,0.12),(26.97,0.32),(26.99,0.06)]
low_27 = [(27.02,0.19),(27.05,0.08),(27.07,0.27),(27.10,0.13),(27.12,0.04),(27.15,0.35),(27.17,0.10),(27.20,0.21),(27.22,0.06),(27.25,0.15),(27.27,0.41),(27.30,0.09),(27.32,0.24),(27.35,0.03),(27.37,0.17),(27.40,0.30),(27.42,0.12),(27.45,0.05),(27.47,0.26),(27.50,0.14),(27.52,0.44),(27.55,0.07),(27.57,0.20),(27.60,0.11),(27.62,0.34),(27.65,0.02),(27.67,0.16),(27.70,0.25),(27.72,0.08),(27.75,0.38),(27.77,0.13),(27.80,0.04),(27.82,0.22),(27.85,0.10),(27.87,0.31),(27.90,0.06),(27.92,0.18),(27.95,0.42),(27.97,0.12),(27.99,0.03)]
low_28 = [(28.02,0.14),(28.05,0.26),(28.07,0.05),(28.10,0.18),(28.12,0.37),(28.15,0.09),(28.17,0.22),(28.20,0.13),(28.22,0.04),(28.25,0.31),(28.27,0.16),(28.30,0.07),(28.32,0.45),(28.35,0.11),(28.37,0.20),(28.40,0.03),(28.42,0.28),(28.45,0.15),(28.47,0.08),(28.50,0.34),(28.52,0.12),(28.55,0.23),(28.57,0.05),(28.60,0.17),(28.62,0.40),(28.65,0.10),(28.67,0.02),(28.70,0.25),(28.72,0.14),(28.75,0.32),(28.77,0.07),(28.80,0.19),(28.82,0.11),(28.85,0.43),(28.87,0.04),(28.90,0.16),(28.92,0.27),(28.95,0.09),(28.97,0.21),(28.99,0.35)]
low_29 = [(29.02,0.10),(29.05,0.24),(29.07,0.05),(29.10,0.33),(29.12,0.15),(29.15,0.08),(29.17,0.20),(29.20,0.42),(29.22,0.12),(29.25,0.03),(29.27,0.27),(29.30,0.16),(29.32,0.07),(29.35,0.36),(29.37,0.13),(29.40,0.22),(29.42,0.04),(29.45,0.30),(29.47,0.10),(29.50,0.18),(29.52,0.47),(29.55,0.06),(29.57,0.14),(29.60,0.29),(29.62,0.09),(29.65,0.21),(29.67,0.02),(29.70,0.38),(29.72,0.17),(29.75,0.11),(29.77,0.26),(29.80,0.05),(29.82,0.15),(29.85,0.44),(29.87,0.12),(29.90,0.23),(29.92,0.07),(29.95,0.34),(29.97,0.19),(29.99,0.03)]
low_30 = [(30.02,0.21),(30.05,0.11),(30.07,0.39),(30.10,0.05),(30.12,0.17),(30.15,0.28),(30.17,0.09),(30.20,0.14),(30.22,0.45),(30.25,0.03),(30.27,0.20),(30.30,0.12),(30.32,0.33),(30.35,0.07),(30.37,0.16),(30.40,0.25),(30.42,0.04),(30.45,0.36),(30.47,0.13),(30.50,0.08),(30.52,0.22),(30.55,0.41),(30.57,0.10),(30.60,0.18),(30.62,0.02),(30.65,0.30),(30.67,0.15),(30.70,0.06),(30.72,0.27),(30.75,0.12),(30.77,0.43),(30.80,0.04),(30.82,0.19),(30.85,0.32),(30.87,0.09),(30.90,0.14),(30.92,0.24),(30.95,0.05),(30.97,0.37),(30.99,0.11)]
low_31 = [(31.02,0.16),(31.05,0.07),(31.07,0.30),(31.10,0.12),(31.12,0.21),(31.15,0.04),(31.17,0.42),(31.20,0.10),(31.22,0.18),(31.25,0.27),(31.27,0.06),(31.30,0.14),(31.32,0.35),(31.35,0.09),(31.37,0.23),(31.40,0.02),(31.42,0.17),(31.45,0.39),(31.47,0.11),(31.50,0.05),(31.52,0.26),(31.55,0.15),(31.57,0.45),(31.60,0.08),(31.62,0.20),(31.65,0.12),(31.67,0.32),(31.70,0.03),(31.72,0.16),(31.75,0.25),(31.77,0.09),(31.80,0.40),(31.82,0.13),(31.85,0.06),(31.87,0.22),(31.90,0.34),(31.92,0.10),(31.95,0.18),(31.97,0.04),(31.99,0.28)]
low_32 = [(32.02,0.12),(32.05,0.33),(32.07,0.06),(32.10,0.19),(32.12,0.41),(32.15,0.10),(32.17,0.24),(32.20,0.04),(32.22,0.15),(32.25,0.36),(32.27,0.08),(32.30,0.21),(32.32,0.13),(32.35,0.46),(32.37,0.05),(32.40,0.17),(32.42,0.29),(32.45,0.11),(32.47,0.03),(32.50,0.25),(32.52,0.14),(32.55,0.38),(32.57,0.07),(32.60,0.20),(32.62,0.12),(32.65,0.31),(32.67,0.02),(32.70,0.16),(32.72,0.43),(32.75,0.09),(32.77,0.22),(32.80,0.14),(32.82,0.05),(32.85,0.35),(32.87,0.18),(32.90,0.10),(32.92,0.27),(32.95,0.04),(32.97,0.40),(32.99,0.15)]
low_33 = [(33.02,0.20),(33.05,0.09),(33.07,0.37),(33.10,0.13),(33.12,0.04),(33.15,0.26),(33.17,0.16),(33.20,0.44),(33.22,0.07),(33.25,0.18),(33.27,0.11),(33.30,0.32),(33.32,0.03),(33.35,0.22),(33.37,0.14),(33.40,0.39),(33.42,0.08),(33.45,0.17),(33.47,0.28),(33.50,0.05),(33.52,0.13),(33.55,0.35),(33.57,0.10),(33.60,0.21),(33.62,0.02),(33.65,0.30),(33.67,0.15),(33.70,0.07),(33.72,0.42),(33.75,0.12),(33.77,0.24),(33.80,0.04),(33.82,0.18),(33.85,0.33),(33.87,0.09),(33.90,0.20),(33.92,0.13),(33.95,0.38),(33.97,0.06),(33.99,0.16)]
low_34 = [(34.02,0.12),(34.05,0.29),(34.07,0.05),(34.10,0.19),(34.12,0.37),(34.15,0.09),(34.17,0.23),(34.20,0.03),(34.22,0.15),(34.25,0.33),(34.27,0.11),(34.30,0.06),(34.32,0.26),(34.35,0.14),(34.37,0.40),(34.40,0.04),(34.42,0.18),(34.45,0.10),(34.47,0.28),(34.50,0.02),(34.52,0.15),(34.55,0.24),(34.57,0.07),(34.60,0.13),(34.63,0.20),(34.67,0.03),(34.70,0.11),(34.74,0.07)]
low_37 = [(36.65,0.09),(36.67,0.03),(36.69,0.15),(36.72,0.22),(36.74,0.06),(36.80,0.12),(36.85,0.27),(36.87,0.05),(36.93,0.18),(36.97,0.09),(37.01,0.35),(37.03,0.02),(37.07,0.14),(37.11,0.23),(37.13,0.07),(37.17,0.40),(37.20,0.11),(37.24,0.04),(37.26,0.19),(37.30,0.28),(37.34,0.08),(37.36,0.15),(37.40,0.03),(37.44,0.25),(37.48,0.12),(37.52,0.44),(37.56,0.06),(37.58,0.17),(37.62,0.30),(37.64,0.09),(37.68,0.02),(37.71,0.21),(37.75,0.13),(37.79,0.36),(37.83,0.05),(37.87,0.18),(37.91,0.10),(37.95,0.26),(37.99,0.04),(38.03,0.15),(38.07,0.33),(38.11,0.07),(38.15,0.19),(38.19,0.02),(38.27,0.14),(38.33,0.06),(38.38,0.24)]
low_39 = [(38.45,0.09),(38.46,0.27),(38.48,0.05),(38.50,0.16),(38.51,0.38),(38.53,0.11),(38.55,0.03),(38.56,0.22),(38.58,0.13),(38.60,0.45),(38.61,0.07),(38.63,0.19),(38.65,0.29),(38.66,0.02),(38.68,0.12),(38.70,0.34),(38.71,0.08),(38.73,0.17),(38.75,0.04),(38.76,0.25),(38.78,0.14),(38.80,0.41),(38.81,0.06),(38.83,0.20),(38.85,0.10),(38.86,0.31),(38.88,0.03),(38.90,0.15),(38.91,0.23),(38.93,0.09),(38.95,0.47),(38.96,0.12),(38.98,0.05),(39.00,0.26),(39.01,0.16),(39.03,0.36),(39.05,0.08),(39.06,0.19),(39.08,0.02),(39.10,0.13),(39.11,0.29),(39.13,0.06),(39.15,0.21),(39.16,0.40),(39.18,0.11),(39.20,0.04),(39.21,0.17),(39.23,0.32),(39.25,0.09),(39.26,0.14),(39.28,0.24),(39.30,0.03),(39.31,0.43),(39.33,0.12),(39.35,0.07),(39.36,0.20),(39.38,0.15),(39.40,0.35),(39.41,0.05),(39.43,0.18),(39.45,0.10),(39.46,0.27),(39.48,0.02)]
low_40 = [(39.50,0.21),(39.52,0.06),(39.53,0.34),(39.55,0.12),(39.57,0.03),(39.58,0.18),(39.60,0.27),(39.62,0.09),(39.63,0.44),(39.65,0.14),(39.67,0.05),(39.68,0.22),(39.70,0.11),(39.72,0.37),(39.73,0.02),(39.75,0.16),(39.77,0.26),(39.78,0.08),(39.80,0.13),(39.82,0.41),(39.83,0.04),(39.85,0.19),(39.87,0.30),(39.88,0.10),(39.90,0.15),(39.92,0.06),(39.93,0.25),(39.95,0.46),(39.97,0.12),(39.98,0.03),(40.00,0.20),(40.02,0.35),(40.03,0.08),(40.05,0.14),(40.07,0.28),(40.08,0.05),(40.10,0.17),(40.12,0.42),(40.13,0.10),(40.15,0.02),(40.17,0.23),(40.18,0.13),(40.20,0.32),(40.22,0.07),(40.23,0.18),(40.25,0.48),(40.27,0.11),(40.28,0.04),(40.30,0.26),(40.32,0.15),(40.33,0.38),(40.35,0.09),(40.37,0.21),(40.38,0.02),(40.40,0.14),(40.42,0.31),(40.43,0.06),(40.45,0.19),(40.47,0.43),(40.48,0.12),(40.50,0.05),(40.52,0.24),(40.53,0.16),(40.55,0.36),(40.57,0.08),(40.58,0.20),(40.60,0.03),(40.62,0.29),(40.63,0.13),(40.65,0.45),(40.67,0.10),(40.68,0.17),(40.70,0.04),(40.72,0.27),(40.73,0.14),(40.75,0.34),(40.77,0.07),(40.78,0.22),(40.80,0.12),(40.82,0.02),(40.83,0.39),(40.85,0.16),(40.87,0.09),(40.88,0.25),(40.90,0.05),(40.92,0.18),(40.93,0.30),(40.95,0.11),(40.97,0.03),(40.98,0.15),(41.00,0.24)]

gene_names = ["ITPR2", "CCDC91", "TMTC1", "DDX11", "BICD1", "SLC2A13", "PDZRN4"]
gene_start = [26.27, 28.23, 29.53, 31.03, 32.02, 38.41, 40.09]
gene_end = [26.96, 29.21, 30.37, 31.18, 32.47, 38.93, 40.28]
gene_level = [4.10, 3.50, 4.20, 3.40, 3.50, 3.80, 3.30]
threshold = 3.0   # -log10(0.001)
x_ticks = [25, 30, 35, 40]
y_ticks = [0, 1, 2, 3, 4, 5, 6]

segments = [seg_a, seg_b, seg_c, seg_d, seg_e, seg_f, seg_g, seg_h, seg_i, seg_j, seg_k, seg_l,
            seg_m, seg_n, seg_o, seg_p, seg_q, seg_r, seg_s, seg_t, seg_u, seg_v, seg_w,
            seg_x, seg_y, seg_z, seg_aa, seg_bb, seg_cc, seg_dd,
            low_23, low_24, low_25, low_26, low_27, low_28, low_29, low_30, low_31, low_32, low_33, low_34,
            low_37, low_39, low_40]
loc_mb = [p[0] for s in segments for p in s]
neglog_p = [p[1] for s in segments for p in s]

# ---------------- layout helpers (pixels -> paper) ----------------
W, H = 1282, 812
ML, MR, MT, MB = 118, 5, 29, 167
PW = W - ML - MR
PH = H - MT - MB


def pxx(x):
    return (x - ML) / PW


def pxy(y):
    return (H - MB - y) / PH


AX_FONT = "Liberation Sans, Arial, sans-serif"
CAP_FONT = "Open Sans, Noto Sans, sans-serif"

fig = go.Figure()

fig.add_trace(go.Scatter(
    x=loc_mb, y=neglog_p, mode="markers",
    marker=dict(symbol="circle-open", size=7.5, color="black", line=dict(width=1.2, color="black")),
    hoverinfo="skip", showlegend=False))

gx, gy = [], []
for s, e, lv in zip(gene_start, gene_end, gene_level):
    gx += [s, e, None]
    gy += [lv, lv, None]
fig.add_trace(go.Scatter(x=gx, y=gy, mode="lines", line=dict(color="black", width=4.5),
                         hoverinfo="skip", showlegend=False))

annotations = []
for name, s, e, lv in zip(gene_names, gene_start, gene_end, gene_level):
    annotations.append(dict(x=(s + e) / 2, y=lv, xref="x", yref="y", text=name, showarrow=False,
                            yshift=19, font=dict(family=AX_FONT, size=13.5, color="black")))

# axis titles
annotations.append(dict(x=pxx(50), y=pxy(337), xref="paper", yref="paper", text="\u2212log 10 p\u2212value",
                        textangle=-90, showarrow=False, font=dict(family=AX_FONT, size=17, color="black")))
annotations.append(dict(x=pxx(697), y=pxy(706), xref="paper", yref="paper", text="Location (MB)",
                        showarrow=False, font=dict(family=AX_FONT, size=17, color="black")))
# legend text
annotations.append(dict(x=pxx(1210), y=pxy(47), xref="paper", yref="paper", text="p=0.001",
                        xanchor="left", yanchor="middle", showarrow=False,
                        font=dict(family=AX_FONT, size=15, color="black")))
# caption (line 1 is justified to the full width in the reference)
N = "\u00a0"
cap1 = ("<b>Figure 2 " + N + "Differential association " + N + "with LVM " + N + "among individuals " + N
        + "with Low " + N + "and High WC</b>. The region " + N + "shown (23-41 MB) is " + N + "approximately the")
annotations.append(dict(x=pxx(22), y=pxy(743), xref="paper", yref="paper", xanchor="left",
                        text=cap1, showarrow=False, font=dict(family=CAP_FONT, size=18.4, color="#231f20")))
annotations.append(dict(x=pxx(22), y=pxy(771), xref="paper", yref="paper", xanchor="left",
                        text="1 LOD down region of the high waist circumference OSA analysis in the Family Study of Stroke Risk and Carotid Atherosclerosis.",
                        showarrow=False, font=dict(family=CAP_FONT, size=18.4, color="#231f20")))

# outer rounded border
bx0, by0, bx1, by1, r = 9, 13, 1281, 805, 12
path = (f"M {pxx(bx0 + r)},{pxy(by0)} L {pxx(bx1 - r)},{pxy(by0)} Q {pxx(bx1)},{pxy(by0)} {pxx(bx1)},{pxy(by0 + r)} "
        f"L {pxx(bx1)},{pxy(by1 - r)} Q {pxx(bx1)},{pxy(by1)} {pxx(bx1 - r)},{pxy(by1)} "
        f"L {pxx(bx0 + r)},{pxy(by1)} Q {pxx(bx0)},{pxy(by1)} {pxx(bx0)},{pxy(by1 - r)} "
        f"L {pxx(bx0)},{pxy(by0 + r)} Q {pxx(bx0)},{pxy(by0)} {pxx(bx0 + r)},{pxy(by0)} Z")

shapes = [
    dict(type="line", xref="paper", yref="y", x0=0, x1=1, y0=threshold, y1=threshold,
         line=dict(color="#4a4a4a", width=1.5)),
    dict(type="rect", xref="paper", yref="paper", x0=pxx(1168), x1=1, y0=pxy(66), y1=1,
         line=dict(color="black", width=1), fillcolor="white"),
    dict(type="line", xref="paper", yref="paper", x0=pxx(1173), x1=pxx(1200), y0=pxy(47), y1=pxy(47),
         line=dict(color="#3a3a3a", width=1.3)),
    dict(type="path", xref="paper", yref="paper", path=path, line=dict(color="#444444", width=1.5)),
]

fig.update_layout(
    width=W, height=H, margin=dict(l=ML, r=MR, t=MT, b=MB, autoexpand=False),
    paper_bgcolor="white", plot_bgcolor="white", showlegend=False,
    annotations=annotations, shapes=shapes,
    xaxis=dict(range=[22.28, 41.72], tickvals=x_ticks, ticktext=[str(v) for v in x_ticks],
               showgrid=False, zeroline=False, showline=True, mirror=True, linecolor="black", linewidth=2,
               ticks="outside", ticklen=12, tickwidth=2, tickcolor="black", ticklabelstandoff=2,
               tickfont=dict(family=AX_FONT, size=17, color="black", weight="bold")),
    yaxis=dict(range=[-0.24, 6.24], tickvals=y_ticks, ticktext=[str(v) for v in y_ticks],
               showgrid=False, zeroline=False, showline=True, mirror=True, linecolor="black", linewidth=2,
               ticks="outside", ticklen=12, tickwidth=2, tickcolor="black", tickangle=-90, ticklabelstandoff=10,
               tickfont=dict(family=AX_FONT, size=17, color="black", weight="bold")),
)

fig.write_html("out.html")
